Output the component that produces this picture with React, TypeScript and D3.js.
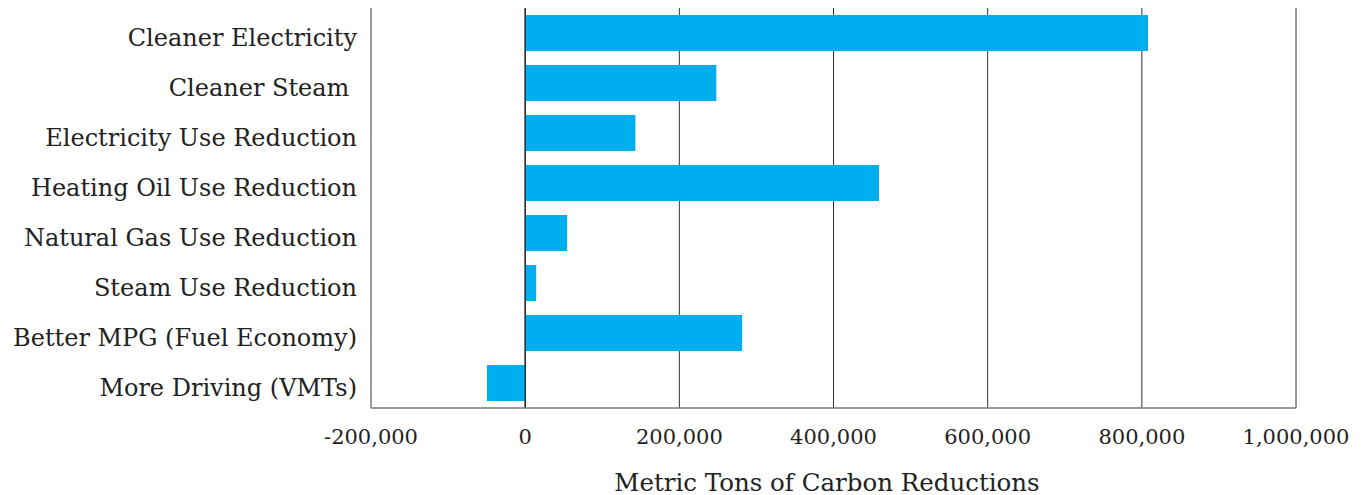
import React from "react";
import * as d3 from "d3";

const categories = [
  "Cleaner Electricity",
  "Cleaner Steam ",
  "Electricity Use Reduction",
  "Heating Oil Use Reduction",
  "Natural Gas Use Reduction",
  "Steam Use Reduction",
  "Better MPG (Fuel Economy)",
  "More Driving (VMTs)",
];
const values = [808000, 248000, 143000, 459000, 54500, 14300, 281500, -49500];
const tickValues = [-200000, 0, 200000, 400000, 600000, 800000, 1000000];
const axisTitle = "Metric Tons of Carbon Reductions";

const W = 1366;
const H = 495;
const left = 371;
const right = 1296;
const top = 8;
const bottom = 408;
const FONT = "'DejaVu Serif', serif";

export default function App() {
  const x = d3.scaleLinear().domain([-200000, 1000000]).range([left, right]);
  const y = d3.scaleBand().domain(categories.map((_, i) => String(i))).range([top, bottom]).paddingInner(0.28).paddingOuter(0.14);
  const fmt = (v: number) => d3.format(",")(v).replace("\u2212", "-");
  return (
    <svg width={W} height={H} style={{ position: "absolute", left: 0, top: 0, background: "#fff" }}>
      {tickValues.slice(1).map((t) => (
        <line key={t} x1={x(t)} x2={x(t)} y1={top} y2={bottom} stroke={t === 0 ? "#111" : "#333"} strokeWidth={1} />
      ))}
      {values.map((v, i) => (
        <rect
          key={i}
          x={Math.min(x(0), x(v))}
          width={Math.abs(x(v) - x(0))}
          y={y(String(i))}
          height={y.bandwidth()}
          fill="#00AEEF"
        />
      ))}
      <line x1={x(0)} x2={x(0)} y1={top} y2={bottom} stroke="#111" strokeWidth={1} />
      <line x1={left} x2={left} y1={top} y2={bottom} stroke="#777" strokeWidth={1.5} />
      <line x1={left} x2={right} y1={bottom} y2={bottom} stroke="#777" strokeWidth={1.5} />
      {categories.map((c, i) => (
        <text
          key={i}
          x={357}
          y={(y(String(i)) as number) + y.bandwidth() / 2 + 5}
          textAnchor="end"
          dominantBaseline="central"
          fontFamily={FONT}
          fontSize={24}
          fill="#222"
          style={{ whiteSpace: "pre" }}
        >
          {c}
        </text>
      ))}
      {tickValues.map((t) => (
        <text key={t} x={x(t)} y={437} textAnchor="middle" dominantBaseline="central" fontFamily={FONT} fontSize={21} fill="#222">
          {fmt(t)}
        </text>
      ))}
      <text x={827} y={482} textAnchor="middle" dominantBaseline="central" fontFamily={FONT} fontSize={24.5} fill="#222">
        {axisTitle}
      </text>
    </svg>
  );
}
